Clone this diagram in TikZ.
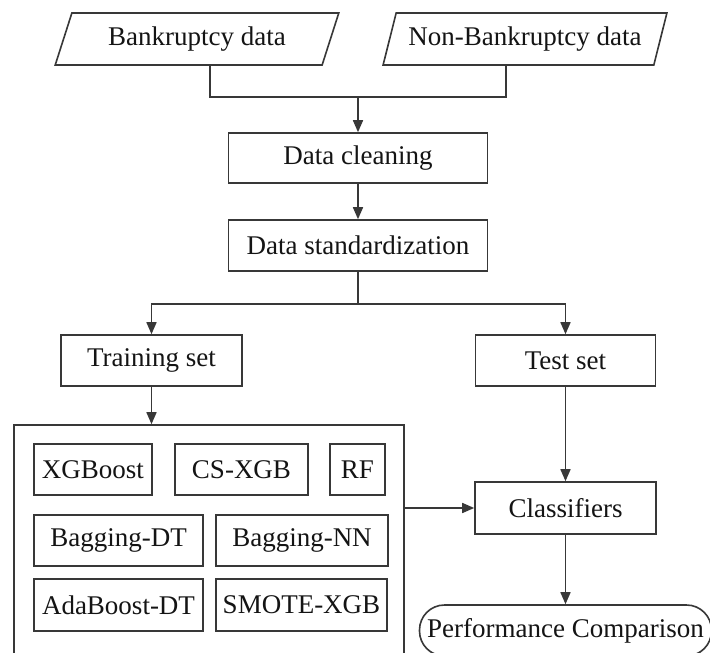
\documentclass[tikz,border=0pt]{standalone}
\usepackage{fontspec}
\setmainfont{Liberation Serif}
\usetikzlibrary{shapes.geometric,arrows.meta,calc}
\definecolor{ln}{HTML}{383838}
\definecolor{tx}{HTML}{141414}
\begin{document}
\begin{tikzpicture}[x=1pt,y=-1pt,
  every node/.style={font=\fontsize{27}{31}\selectfont, text=tx},
  boxnode/.style={draw=ln, line width=1.6pt, rectangle, inner sep=0pt, align=center},
  datanode/.style={draw=ln, line width=1.6pt, trapezium, trapezium left angle=64.3, trapezium right angle=115.7, trapezium stretches=true, inner sep=0pt, minimum width=284pt, minimum height=52pt},
  conn/.style={draw=ln, line width=1.6pt},
  arr/.style={conn, -{Triangle[length=12pt,width=10pt]}}
]
\useasboundingbox (0,0) rectangle (710,653);
\fill[white] (0,0) rectangle (710,653);
\clip (0,0) rectangle (710,653);

% input data
\node[datanode] (B) at (197,39) {Bankruptcy data};
\node[datanode] (N) at (525,39) {Non-Bankruptcy data};
\coordinate (jB) at (210,97);
\coordinate (jN) at (506,97);

% processing
\node[boxnode, minimum width=259pt, minimum height=50pt] (DC) at (358,158) {Data cleaning};
\node[boxnode, minimum width=259pt, minimum height=51pt] (DS) at (358,245.5) {Data standardization};
\node[boxnode, minimum width=181pt, minimum height=51pt] (TR) at (151.5,360.5) {Training set};
\node[boxnode, minimum width=180pt, minimum height=51pt] (TE) at (565.5,360.5) {Test set};

% models container
\node[boxnode, minimum width=390pt, minimum height=260pt] (M) at (209,555) {};
\node[boxnode, minimum width=118pt, minimum height=51pt] (XGB) at (93,469.5) {XGBoost};
\node[boxnode, minimum width=133pt, minimum height=51pt] (CS) at (241.5,469.5) {CS-XGB};
\node[boxnode, minimum width=55pt, minimum height=51pt] (RF) at (357.5,469.5) {RF};
\node[boxnode, minimum width=169pt, minimum height=51pt] (BDT) at (118.5,540.5) {Bagging-DT};
\node[boxnode, minimum width=172pt, minimum height=51pt] (BNN) at (302,540.5) {Bagging-NN};
\node[boxnode, minimum width=169pt, minimum height=52pt] (ADA) at (118.5,605) {AdaBoost-DT};
\node[boxnode, minimum width=171pt, minimum height=52pt] (SM) at (301.5,605) {SMOTE-XGB};

% classifiers and result
\node[boxnode, minimum width=181pt, minimum height=52pt] (CL) at (565.5,508) {Classifiers};
\node[boxnode, rounded corners=25pt, minimum width=292pt, minimum height=51pt] (PC) at (565.5,630.5) {Performance Comparison};

% connectors
\draw[conn] (jB |- B.south) -- (jB) -- (jN) -- (jN |- N.south);
\draw[arr] (DC.north |- jB) -- (DC.north);
\draw[arr] (DC.south) -- (DS.north);
\draw[arr] (DS.south) -- ++(0,32) -| (TR.north);
\draw[arr] (DS.south) -- ++(0,32) -| (TE.north);
\draw[arr] (TR.south) -- (TR.south |- M.north);
\draw[arr] (TE.south) -- (CL.north);
\draw[arr] (M.east |- CL.west) -- (CL.west);
\draw[arr] (CL.south) -- (PC.north);
\end{tikzpicture}
\end{document}
